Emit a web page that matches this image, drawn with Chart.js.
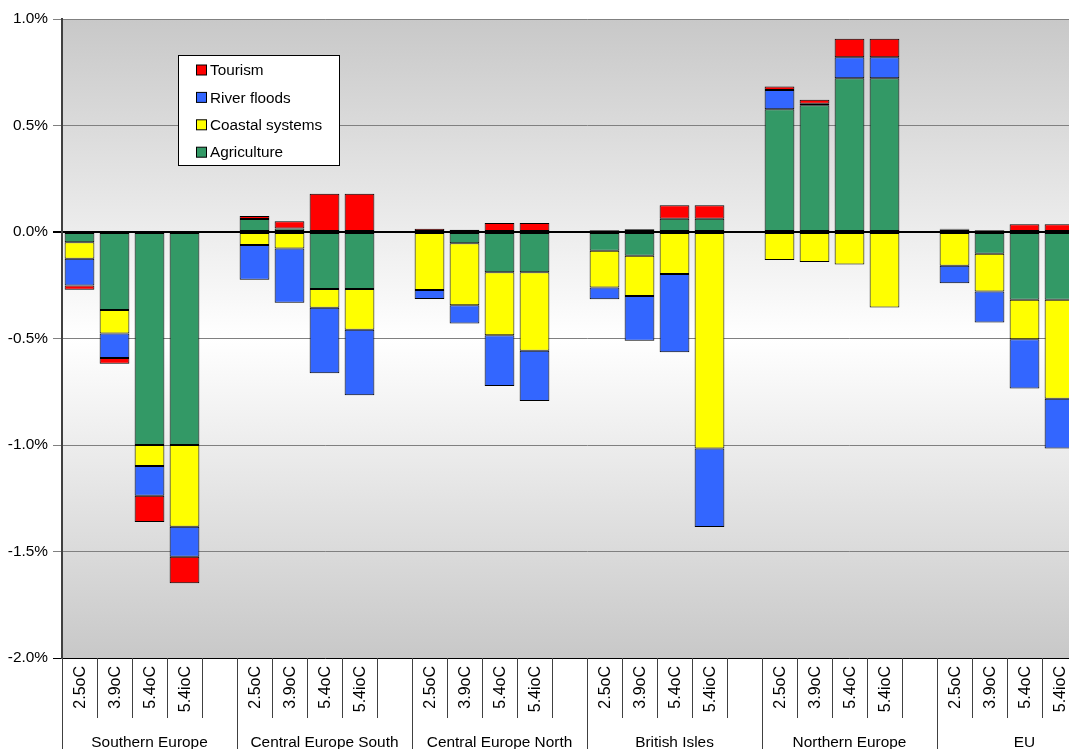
<!DOCTYPE html>
<html>
<head>
<meta charset="utf-8">
<script src="https://cdn.jsdelivr.net/npm/chart.js@4.4.1/dist/chart.umd.min.js"></script>
<style>
  html, body { margin: 0; padding: 0; background: #fff; overflow: hidden; }
  #wrap { position: relative; width: 1120px; height: 749px; }
</style>
</head>
<body>
<div id="wrap"><canvas id="impactChart"></canvas></div>
<script>
// Regions and warming scenarios
const groups = ['Southern Europe', 'Central Europe South', 'Central Europe North', 'British Isles', 'Northern Europe', 'EU'];
const scenarios = ['2.5oC', '3.9oC', '5.4oC', '5.4ioC'];

// Values in % of GDP, 4 scenarios per region, in group order
const agriculture = [
    -0.048, -0.366, -1.000, -1.000,
     0.061,  0.016, -0.268, -0.268,
     0.005, -0.053, -0.189, -0.189,
    -0.088, -0.111,  0.062,  0.062,
     0.576,  0.595,  0.722,  0.722,
     0.012, -0.102, -0.318, -0.318
];
const coastal = [
    -0.078, -0.110, -0.099, -0.384,
    -0.061, -0.078, -0.088, -0.191,
    -0.272, -0.291, -0.296, -0.369,
    -0.172, -0.189, -0.197, -1.017,
    -0.131, -0.141, -0.153, -0.354,
    -0.158, -0.177, -0.186, -0.465
];
const riverFloods = [
    -0.125, -0.116, -0.139, -0.141,
    -0.163, -0.254, -0.307, -0.307,
    -0.042, -0.085, -0.238, -0.236,
    -0.056, -0.210, -0.368, -0.368,
     0.091,  0.007,  0.099,  0.099,
    -0.083, -0.146, -0.231, -0.233
];
const tourism = [
    -0.020, -0.027, -0.124, -0.124,
     0.014,  0.034,  0.180,  0.180,
     0.010,  0.010,  0.042,  0.042,
     0.008,  0.013,  0.064,  0.064,
     0.016,  0.019,  0.086,  0.086,
     0.003,  0.008,  0.036,  0.036
];

// y axis ticks
const yMin = -2.0, yMax = 1.0, yStep = 0.5;

const FONT = '"Liberation Sans", Arial, sans-serif';

// Each region gets an extra empty slot after its 4 bars
function withGaps(values) {
    const out = [];
    for (let g = 0; g < groups.length; g++) {
        for (let s = 0; s < scenarios.length; s++) out.push(values[g * scenarios.length + s]);
        out.push(null);
    }
    return out;
}

const slotLabels = [];
groups.forEach(() => { scenarios.forEach(s => slotLabels.push(s)); slotLabels.push(''); });

// Background gradient: grey at top and bottom, white in the middle
const plotBackground = {
    id: 'plotBackground',
    beforeDraw(chart) {
        const { ctx, chartArea: a } = chart;
        const grad = ctx.createLinearGradient(0, a.top, 0, a.bottom);
        grad.addColorStop(0, '#c8c8c8');
        grad.addColorStop(0.5, '#ffffff');
        grad.addColorStop(1, '#c8c8c8');
        ctx.save();
        ctx.fillStyle = grad;
        ctx.fillRect(a.left, a.top, a.right - a.left, a.bottom - a.top);
        ctx.restore();
    }
};

// Two-level category axis and in-plot legend
const groupAxis = {
    id: 'groupAxis',
    afterDraw(chart) {
        const { ctx, chartArea: a } = chart;
        const x = chart.scales.x;
        const per = scenarios.length + 1;
        const slotW = x.getPixelForValue(1) - x.getPixelForValue(0);
        const top = a.bottom;
        const subBottom = top + 60;
        const groupBottom = chart.height;

        ctx.save();
        ctx.strokeStyle = '#404040';
        ctx.lineWidth = 1;
        for (let i = 0; i <= slotLabels.length; i++) {
            const lx = Math.round(x.getPixelForValue(0) - slotW / 2 + i * slotW) + 0.5;
            ctx.beginPath();
            ctx.moveTo(lx, top);
            ctx.lineTo(lx, i % per === 0 ? groupBottom : subBottom);
            ctx.stroke();
        }

        ctx.fillStyle = '#000';
        ctx.font = '16px ' + FONT;
        ctx.textAlign = 'right';
        ctx.textBaseline = 'middle';
        slotLabels.forEach((lab, i) => {
            if (!lab) return;
            ctx.save();
            ctx.translate(x.getPixelForValue(i) + 1, top + 8);
            ctx.rotate(-Math.PI / 2);
            ctx.fillText(lab, 0, 0);
            ctx.restore();
        });

        ctx.font = '15.4px ' + FONT;
        ctx.textAlign = 'center';
        ctx.textBaseline = 'alphabetic';
        groups.forEach((g, gi) => {
            const cx = x.getPixelForValue(gi * per) - slotW / 2 + per * slotW / 2;
            ctx.fillText(g, cx, groupBottom - 2);
        });

        // legend box
        const lx = 178.5, ly = 55.5, lw = 161, lh = 110;
        ctx.fillStyle = '#fff';
        ctx.fillRect(lx, ly, lw, lh);
        ctx.strokeStyle = '#000';
        ctx.strokeRect(lx, ly, lw, lh);
        const items = chart.data.datasets.slice().reverse();
        ctx.font = '15.3px ' + FONT;
        ctx.textAlign = 'left';
        ctx.textBaseline = 'middle';
        items.forEach((ds, k) => {
            const cy = 70 + k * 27.4;
            ctx.fillStyle = ds.backgroundColor;
            ctx.fillRect(196.5, cy - 5, 10, 10);
            ctx.strokeStyle = '#000';
            ctx.strokeRect(196.5, cy - 5, 10, 10);
            ctx.fillStyle = '#000';
            ctx.fillText(ds.label, 210, cy + 1);
        });
        ctx.restore();
    }
};

function barSet(label, values, color) {
    return {
        label: label,
        data: withGaps(values),
        backgroundColor: color,
        borderColor: '#000',
        borderWidth: 1,
        borderSkipped: false,
        barPercentage: 0.85,
        categoryPercentage: 1.0
    };
}

const chart = new Chart(document.getElementById('impactChart'), {
    type: 'bar',
    data: {
        labels: slotLabels,
        datasets: [
            barSet('Agriculture', agriculture, '#339966'),
            barSet('Coastal systems', coastal, '#ffff00'),
            barSet('River floods', riverFloods, '#3366ff'),
            barSet('Tourism', tourism, '#ff0000')
        ]
    },
    options: {
        responsive: true,
        maintainAspectRatio: false,
        animation: false,
        layout: { padding: { left: 0, right: 8, top: 19, bottom: 91 } },
        plugins: {
            legend: { display: false },
            tooltip: { enabled: false }
        },
        scales: {
            x: {
                stacked: true,
                display: false
            },
            y: {
                stacked: true,
                min: yMin,
                max: yMax,
                afterFit(scale) { scale.width = 62; },
                border: { display: true, color: '#404040', width: 2 },
                grid: {
                    color: c => (c.tick && (c.tick.value === 0 || c.tick.value === yMin)) ? '#000' : '#808080',
                    lineWidth: c => (c.tick && c.tick.value === 0) ? 2 : 1,
                    tickLength: 9
                },
                ticks: {
                    stepSize: yStep,
                    padding: 5,
                    color: '#000',
                    font: { family: FONT, size: 15.4 },
                    callback: v => v.toFixed(1) + '%'
                }
            }
        }
    },
    plugins: [plotBackground, groupAxis]
});
</script>
</body>
</html>
